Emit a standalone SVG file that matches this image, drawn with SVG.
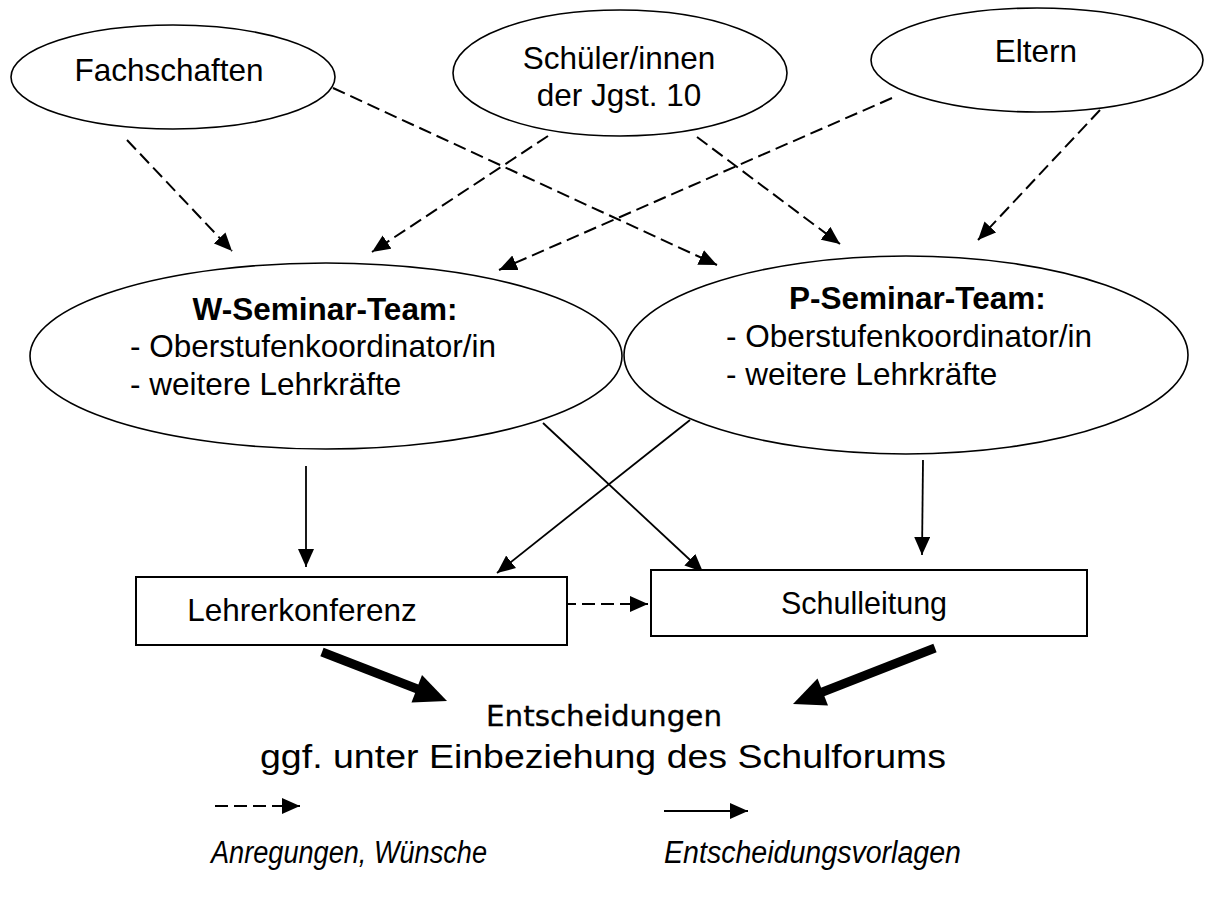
<svg xmlns="http://www.w3.org/2000/svg" width="1210" height="904" viewBox="0 0 1210 904">
<style>
.node{fill:#fff;stroke:#000;stroke-width:1.6}
.box{fill:#fff;stroke:#000;stroke-width:2}
.t{font-family:"Liberation Sans",Arial,sans-serif;font-size:31.5px;fill:#000}
.b{font-weight:bold}
.i{font-style:italic;font-size:31px}
.dash{stroke:#000;stroke-width:2;fill:none;stroke-dasharray:13 6}
.sol{stroke:#000;stroke-width:1.8;fill:none}
.ent{font-family:"DejaVu Sans",Verdana,sans-serif;font-size:29px;fill:#000;stroke:#000;stroke-width:0.3}
</style>
<defs>
<marker id="ah" markerUnits="userSpaceOnUse" viewBox="0 0 18 16" refX="18" refY="8" markerWidth="18" markerHeight="16" orient="auto">
<path d="M0,0 L18,8 L0,16 Z" fill="#000"/>
</marker>
</defs>
<rect width="1210" height="904" fill="#fff"/>

<g id="connectors">
<line class="dash" x1="127" y1="140" x2="232" y2="251" marker-end="url(#ah)"/>
<line class="dash" x1="333" y1="88" x2="717" y2="265" marker-end="url(#ah)"/>
<line class="dash" x1="548" y1="136" x2="372" y2="252" marker-end="url(#ah)"/>
<line class="dash" x1="697" y1="137" x2="840" y2="244" marker-end="url(#ah)"/>
<line class="dash" x1="892" y1="98" x2="499" y2="270" marker-end="url(#ah)"/>
<line class="dash" x1="1100" y1="110" x2="978" y2="240" marker-end="url(#ah)"/>
<line class="dash" x1="563" y1="604" x2="648" y2="604" marker-end="url(#ah)"/>
<line class="sol" x1="306" y1="466" x2="306" y2="567" marker-end="url(#ah)"/>
<line class="sol" x1="543" y1="423" x2="703" y2="572" marker-end="url(#ah)"/>
<line class="sol" x1="690" y1="420" x2="497" y2="573" marker-end="url(#ah)"/>
<line class="sol" x1="923" y1="460" x2="922" y2="555" marker-end="url(#ah)"/>
<line x1="322" y1="652" x2="420" y2="690" stroke="#000" stroke-width="9"/>
<polygon points="447,701 411.5,702.5 422,675" fill="#000"/>
<line x1="935" y1="648" x2="820" y2="693" stroke="#000" stroke-width="9"/>
<polygon points="793,704 817.5,678.5 828,705.5" fill="#000"/>
</g>

<g id="fachschaften">
<ellipse class="node" cx="173" cy="77" rx="162" ry="52"/>
<text class="t" x="169" y="81" text-anchor="middle">Fachschaften</text>
</g>
<g id="schueler">
<ellipse class="node" cx="620" cy="73" rx="167" ry="63"/>
<text class="t" x="619" y="69" text-anchor="middle">Schüler/innen</text>
<text class="t" x="619" y="106" text-anchor="middle">der Jgst. 10</text>
</g>
<g id="eltern">
<ellipse class="node" cx="1037" cy="60" rx="166" ry="52"/>
<text class="t" x="1036" y="62" text-anchor="middle">Eltern</text>
</g>
<g id="w-seminar">
<ellipse class="node" cx="326" cy="356" rx="296" ry="93"/>
<text class="t b" x="325" y="320" text-anchor="middle">W-Seminar-Team:</text>
<text class="t" x="130" y="357">- Oberstufenkoordinator/in</text>
<text class="t" x="130" y="395">- weitere Lehrkräfte</text>
</g>
<g id="p-seminar">
<ellipse class="node" cx="906" cy="355" rx="282" ry="99"/>
<text class="t b" x="789" y="309">P-Seminar-Team:</text>
<text class="t" x="726" y="347">- Oberstufenkoordinator/in</text>
<text class="t" x="726" y="385">- weitere Lehrkräfte</text>
</g>
<g id="lehrerkonferenz">
<rect class="box" x="136" y="577" width="431" height="68"/>
<text class="t" x="302" y="621" text-anchor="middle" font-size="32.5">Lehrerkonferenz</text>
</g>
<g id="schulleitung">
<rect class="box" x="651" y="570" width="436" height="66"/>
<text class="t" x="864" y="614" text-anchor="middle" style="font-size:30.5px">Schulleitung</text>
</g>
<g id="entscheidungen">
<text class="ent" x="604" y="726" text-anchor="middle" textLength="236" lengthAdjust="spacingAndGlyphs">Entscheidungen</text>
<text class="t" x="603" y="768" text-anchor="middle" style="font-size:33px" textLength="686" lengthAdjust="spacingAndGlyphs">ggf. unter Einbeziehung des Schulforums</text>
</g>
<g id="legend">
<line class="dash" x1="215" y1="806" x2="300" y2="806" marker-end="url(#ah)"/>
<text class="t i" x="211" y="863" textLength="276" lengthAdjust="spacingAndGlyphs">Anregungen, Wünsche</text>
<line class="sol" x1="664" y1="811" x2="748" y2="811" marker-end="url(#ah)"/>
<text class="t i" x="664" y="863" textLength="297" lengthAdjust="spacingAndGlyphs">Entscheidungsvorlagen</text>
</g>
</svg>
